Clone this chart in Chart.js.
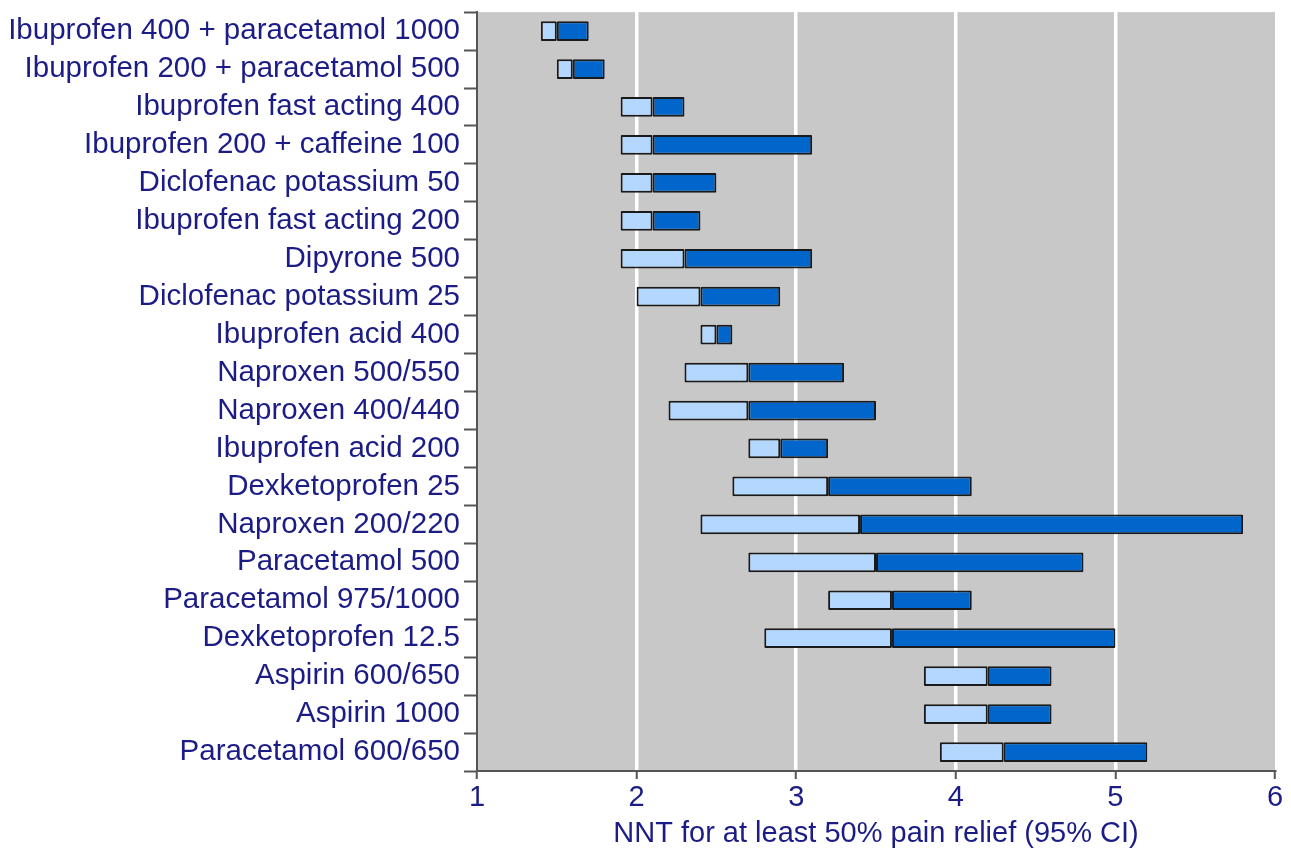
<!DOCTYPE html>
<html>
<head>
<meta charset="utf-8">
<script src="https://cdn.jsdelivr.net/npm/chart.js@4/dist/chart.umd.min.js"></script>
<style>
   html, body { margin: 0; padding: 0; background: #fff; }
   #wrap { width: 1291px; height: 851px; }
</style>
</head>
<body>
<div id="wrap"><canvas id="nntChart" width="1291" height="851"></canvas></div>
<script>
const treatments = [
   'Ibuprofen 400 + paracetamol 1000',
   'Ibuprofen 200 + paracetamol 500',
   'Ibuprofen fast acting 400',
   'Ibuprofen 200 + caffeine 100',
   'Diclofenac potassium 50',
   'Ibuprofen fast acting 200',
   'Dipyrone 500',
   'Diclofenac potassium 25',
   'Ibuprofen acid 400',
   'Naproxen 500/550',
   'Naproxen 400/440',
   'Ibuprofen acid 200',
   'Dexketoprofen 25',
   'Naproxen 200/220',
   'Paracetamol 500',
   'Paracetamol 975/1000',
   'Dexketoprofen 12.5',
   'Aspirin 600/650',
   'Aspirin 1000',
   'Paracetamol 600/650'
];
// lower 95% CI, NNT point estimate, upper 95% CI
const ciLow  = [1.4, 1.5, 1.9, 1.9, 1.9, 1.9, 1.9, 2.0, 2.4, 2.3, 2.2, 2.7, 2.6, 2.4, 2.7, 3.2, 2.8, 3.8, 3.8, 3.9];
const nnt    = [1.5, 1.6, 2.1, 2.1, 2.1, 2.1, 2.3, 2.4, 2.5, 2.7, 2.7, 2.9, 3.2, 3.4, 3.5, 3.6, 3.6, 4.2, 4.2, 4.3];
const ciHigh = [1.7, 1.8, 2.3, 3.1, 2.5, 2.4, 3.1, 2.9, 2.6, 3.3, 3.5, 3.2, 4.1, 5.8, 4.8, 4.1, 5.0, 4.6, 4.6, 5.2];
const xTicks = [1, 2, 3, 4, 5, 6];

const navy = '#1c1c86';
const fontFamily = '"Liberation Sans", Arial, Helvetica, sans-serif';

// gray panel behind the bars
const panelBg = {
   id: 'panelBg',
   beforeDraw(chart) {
      const a = chart.chartArea;
      const ctx = chart.ctx;
      ctx.save();
      ctx.fillStyle = '#c8c8c8';
      ctx.fillRect(a.left, a.top, a.right - a.left, a.bottom - a.top);
      ctx.restore();
   }
};

const ctx = document.getElementById('nntChart').getContext('2d');
new Chart(ctx, {
   type: 'bar',
   data: {
      labels: treatments,
      datasets: [
         {
            label: 'lower CI to NNT',
            data: ciLow.map((v, i) => [v, nnt[i]]),
            backgroundColor: '#b3d7ff',
            borderColor: '#1a1a1a',
            borderWidth: 2,
            borderSkipped: false,
            borderRadius: 1,
            grouped: false,
            barPercentage: 0.52,
            categoryPercentage: 1
         },
         {
            label: 'NNT to upper CI',
            data: nnt.map((v, i) => [v, ciHigh[i]]),
            backgroundColor: '#0066cc',
            borderColor: '#1a1a1a',
            borderWidth: 2,
            borderSkipped: false,
            borderRadius: 1,
            grouped: false,
            barPercentage: 0.52,
            categoryPercentage: 1
         }
      ]
   },
   options: {
      indexAxis: 'y',
      responsive: false,
      animation: false,
      layout: { padding: { top: 0, right: 16, left: 0, bottom: 0 } },
      plugins: {
         legend: { display: false },
         tooltip: { enabled: false }
      },
      scales: {
         x: {
            min: 1,
            max: 6,
            afterBuildTicks: scale => { scale.ticks = xTicks.map(v => ({ value: v })); },
            afterFit: scale => { scale.height = 80; },
            border: { color: '#555', width: 2 },
            grid: {
               color: c => (c.tick && (c.tick.value === 1 || c.tick.value === 6)) ? 'rgba(0,0,0,0)' : '#ffffff',
               lineWidth: 3.5,
               tickColor: '#555',
               tickWidth: 2,
               tickLength: 8
            },
            ticks: {
               color: navy,
               font: { family: fontFamily, size: 29 },
               padding: 2
            },
            title: {
               display: true,
               text: 'NNT for at least 50% pain relief (95% CI)',
               color: navy,
               font: { family: fontFamily, size: 29 },
               padding: { top: 0, bottom: 0 }
            }
         },
         y: {
            afterFit: scale => { scale.width = 477; },
            border: { color: '#555', width: 2 },
            grid: {
               offset: true,
               drawOnChartArea: false,
               tickColor: '#555',
               tickWidth: 2,
               tickLength: 13
            },
            ticks: {
               color: navy,
               font: { family: fontFamily, size: 29.5, lineHeight: 0.55 },
               padding: 4,
               autoSkip: false
            }
         }
      }
   },
   plugins: [panelBg]
});
</script>
</body>
</html>
